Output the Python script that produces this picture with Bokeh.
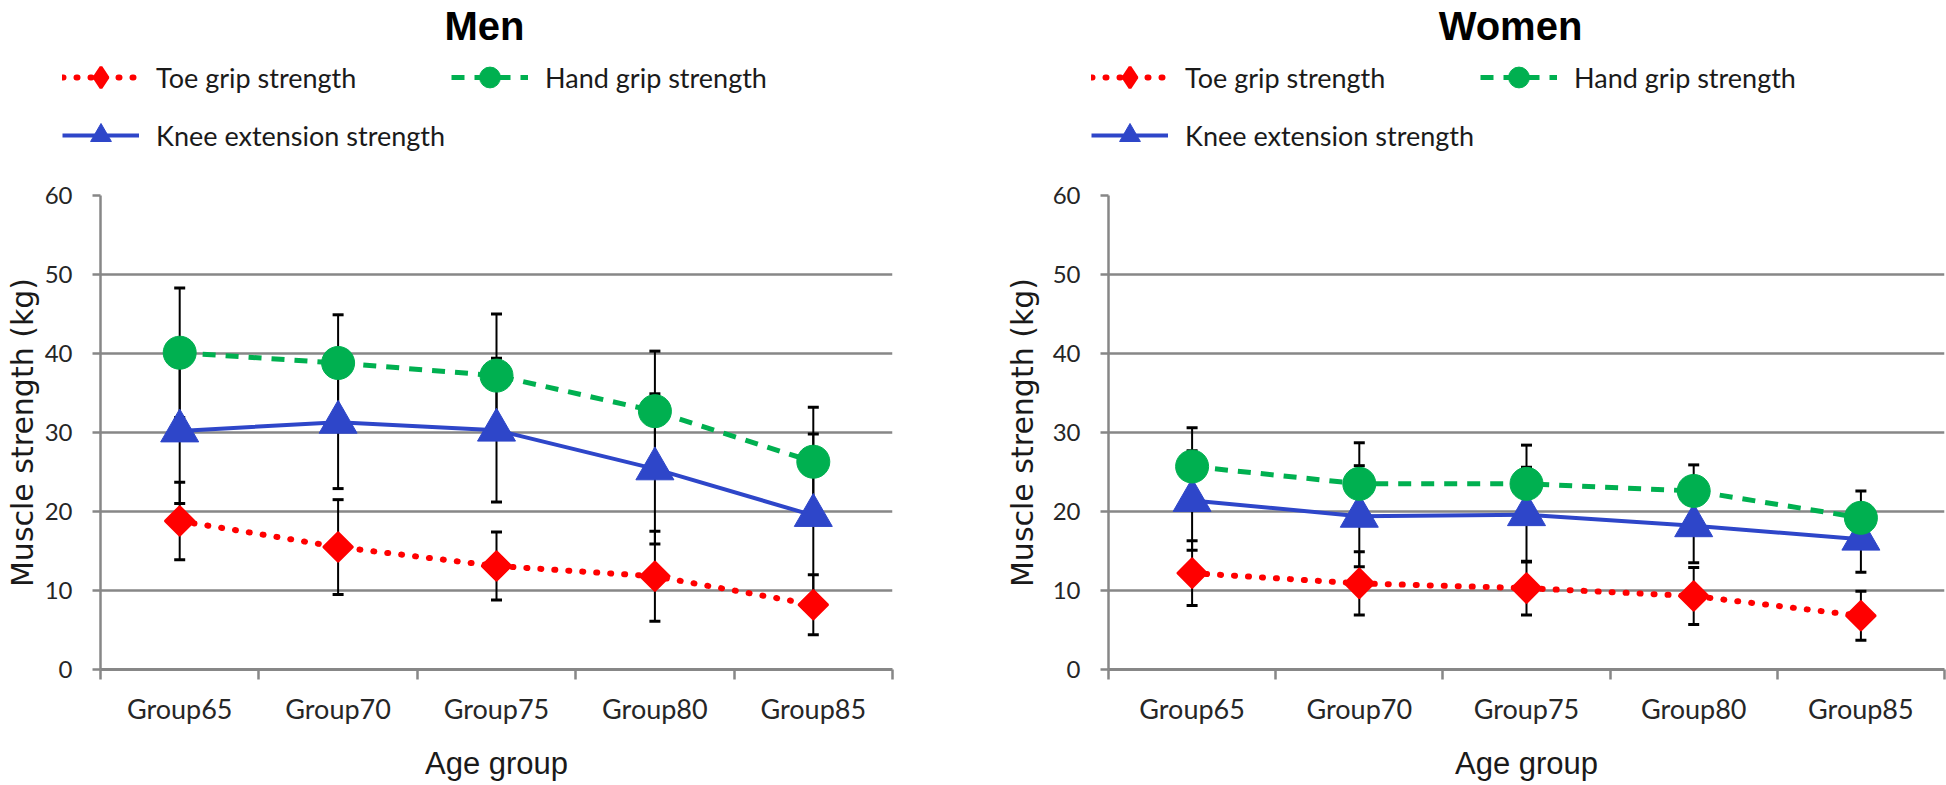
import math
from bokeh.plotting import figure
from bokeh.models import (Range1d, FixedTicker, Legend, LegendItem, Label,
                          Whisker, TeeHead, ColumnDataSource)
from bokeh.layouts import row, column
from bokeh.embed import file_html
from bokeh.resources import INLINE

# ---------------- data ----------------
categories = ["Group65", "Group70", "Group75", "Group80", "Group85"]
y_ticks = [0, 10, 20, 30, 40, 50, 60]
series_names = ["Toe grip strength", "Hand grip strength", "Knee extension strength"]
panel_titles = ["Men", "Women"]

men_toe = [18.8, 15.5, 13.1, 11.8, 8.2]
men_toe_sd = [4.9, 6.0, 4.3, 5.7, 3.8]
men_hand = [40.1, 38.8, 37.2, 32.7, 26.3]
men_hand_sd = [8.2, 6.1, 7.8, 7.6, 6.9]
men_knee = [30.2, 31.3, 30.3, 25.4, 19.5]
men_knee_sd = [9.2, 8.4, 9.1, 9.5, 10.3]

women_toe = [12.2, 10.9, 10.3, 9.3, 6.8]
women_toe_sd = [4.1, 4.0, 3.4, 3.6, 3.1]
women_hand = [25.7, 23.5, 23.5, 22.6, 19.2]
women_hand_sd = [4.9, 5.2, 4.9, 3.3, 3.4]
women_knee = [21.4, 19.4, 19.6, 18.2, 16.5]
women_knee_sd = [6.3, 6.4, 6.0, 4.7, 4.2]

# ---------------- style ----------------
RED = "#FF0000"
GREEN = "#00B050"
BLUE = "#2E46C9"
GRID = "#878787"
TXT = "#262626"

TOTAL_W = 1946
TOTAL_H = 785
HDR_H = 181
MAIN_H = TOTAL_H - HDR_H

STYLE = {
    "toe": dict(line=dict(line_color=RED, line_width=6, line_dash="1 13", line_cap="round"),
                mark=dict(marker="square", size=21, angle=math.pi / 4, fill_color=RED,
                          line_color=RED, line_width=2),
                legend_mark=dict(marker="diamond", fill_color=RED, line_color=RED, line_width=3)),
    "hand": dict(line=dict(line_color=GREEN, line_width=5, line_dash="13 10"),
                 mark=dict(marker="circle", size=33, fill_color=GREEN, line_color=GREEN),
                 legend_mark=dict(marker="circle", fill_color=GREEN, line_color=GREEN)),
    "knee": dict(line=dict(line_color=BLUE, line_width=4),
                 mark=dict(marker="triangle", size=38, fill_color=BLUE, line_color=BLUE),
                 legend_mark=dict(marker="triangle", fill_color=BLUE, line_color=BLUE)),
}


def hide_title(p):
    p.title.text_font_size = "1px"
    p.title.standoff = 0


def panel(toe, toe_sd, hand, hand_sd, knee, knee_sd, width, bl, br, ylab_standoff):
    n = len(categories)
    xs = [i + 0.5 for i in range(n)]
    p = figure(width=width, height=MAIN_H, x_range=Range1d(0, n), y_range=Range1d(0, 60),
               output_backend="svg", toolbar_location=None,
               min_border_left=bl, min_border_right=br,
               min_border_top=14, min_border_bottom=116,
               outline_line_color=None)
    hide_title(p)

    p.xaxis.ticker = FixedTicker(ticks=xs, minor_ticks=list(range(n + 1)))
    p.xaxis.major_label_overrides = {x: c for x, c in zip(xs, categories)}
    p.xaxis.major_tick_out = 0
    p.xaxis.major_tick_in = 0
    p.xaxis.minor_tick_out = 10
    p.xaxis.minor_tick_in = 0
    p.xaxis.minor_tick_line_color = GRID
    p.xaxis.minor_tick_line_width = 2.5
    p.xaxis.axis_line_color = GRID
    p.xaxis.axis_line_width = 3
    p.xaxis.major_label_standoff = 12
    p.xaxis.major_label_text_font = "Lato"
    p.xaxis.major_label_text_font_size = "27px"
    p.xaxis.major_label_text_color = TXT
    p.xaxis.axis_label = "Age group"
    p.xaxis.axis_label_text_font = "Liberation Sans"
    p.xaxis.axis_label_text_font_size = "31px"
    p.xaxis.axis_label_text_font_style = "normal"
    p.xaxis.axis_label_text_color = "#1a1a1a"
    p.xaxis.axis_label_standoff = 18
    p.xgrid.visible = False

    p.yaxis.ticker = FixedTicker(ticks=y_ticks)
    p.yaxis.major_tick_out = 8
    p.yaxis.major_tick_in = 0
    p.yaxis.major_tick_line_color = GRID
    p.yaxis.major_tick_line_width = 2.5
    p.yaxis.minor_tick_out = 0
    p.yaxis.axis_line_color = GRID
    p.yaxis.axis_line_width = 2.5
    p.yaxis.major_label_standoff = 20
    p.yaxis.major_label_text_font = "Lato"
    p.yaxis.major_label_text_font_size = "24px"
    p.yaxis.major_label_text_color = TXT
    p.yaxis.axis_label = "Muscle strength (kg)"
    p.yaxis.axis_label_text_font = "DejaVu Sans"
    p.yaxis.axis_label_text_font_size = "30px"
    p.yaxis.axis_label_text_font_style = "normal"
    p.yaxis.axis_label_text_color = "#1a1a1a"
    p.yaxis.axis_label_standoff = ylab_standoff
    p.ygrid.grid_line_color = GRID
    p.ygrid.grid_line_width = 2.5

    for vals, sds in ((toe, toe_sd), (hand, hand_sd), (knee, knee_sd)):
        src = ColumnDataSource(dict(x=xs,
                                    upper=[v + s for v, s in zip(vals, sds)],
                                    lower=[v - s for v, s in zip(vals, sds)]))
        p.add_layout(Whisker(source=src, base="x", upper="upper", lower="lower",
                             dimension="height", line_color="black", line_width=2,
                             upper_head=TeeHead(size=11, line_width=3, line_color="black"),
                             lower_head=TeeHead(size=11, line_width=3, line_color="black")))

    p.line(xs, toe, **STYLE["toe"]["line"])
    p.line(xs, hand, **STYLE["hand"]["line"])
    p.line(xs, knee, **STYLE["knee"]["line"])
    p.scatter(xs, knee, **STYLE["knee"]["mark"])
    p.scatter(xs, hand, **STYLE["hand"]["mark"])
    p.scatter(xs, toe, **STYLE["toe"]["mark"])
    return p


p1 = panel(men_toe, men_toe_sd, men_hand, men_hand_sd, men_knee, men_knee_sd,
           width=1000, bl=100, br=108, ylab_standoff=2)
p2 = panel(women_toe, women_toe_sd, women_hand, women_hand_sd, women_knee, women_knee_sd,
           width=946, bl=108, br=2, ylab_standoff=10)

# ---------------- header: titles + legends ----------------
hdr = figure(width=TOTAL_W, height=HDR_H, x_range=Range1d(0, TOTAL_W), y_range=Range1d(0, HDR_H),
             output_backend="svg", toolbar_location=None, min_border=0,
             x_axis_location=None, y_axis_location=None, outline_line_color=None)
hide_title(hdr)
hdr.grid.visible = False

# legend proxies live outside the visible header range (only their legend samples show)
proxy_x = [-60, -50]
proxy_y = [-60, -60]

title_pos = [(484, 156), (1510, 156)]
legend_pos = [(62, 20), (1091, 20)]
for t, (tx, ty), loc in zip(panel_titles, title_pos, legend_pos):
    hdr.add_layout(Label(x=tx, y=ty, x_units="screen", y_units="screen", text=t,
                         text_font="Liberation Sans", text_font_style="bold",
                         text_font_size="40px", text_align="center", text_baseline="alphabetic",
                         text_color="black"))
    items = []
    for name, key in zip(series_names, ["toe", "hand", "knee"]):
        rl = hdr.line(proxy_x, proxy_y, **STYLE[key]["line"])
        rm = hdr.scatter(proxy_x, proxy_y, **STYLE[key]["legend_mark"])
        items.append(LegendItem(label=name, renderers=[rl, rm]))
    hdr.add_layout(Legend(items=items, location=loc, orientation="horizontal", ncols=2,
                          glyph_width=77, glyph_height=52, label_standoff=17, label_width=282,
                          spacing=6, padding=0, margin=0, border_line_color=None,
                          background_fill_alpha=0, label_text_font="Lato",
                          label_text_font_size="27px", label_text_color="#1a1a1a"))

layout = column(hdr, row(p1, p2))
open("out.html", "w").write(file_html(layout, INLINE))
